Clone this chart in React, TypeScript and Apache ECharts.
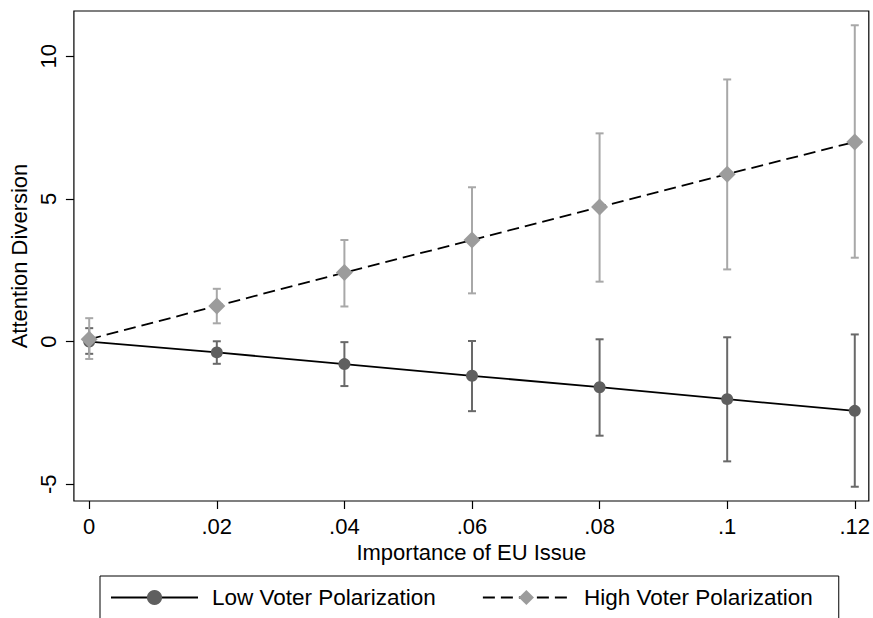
import { useEffect, useRef } from "react";
import * as echarts from "echarts";

const xValues = [0, 0.02, 0.04, 0.06, 0.08, 0.1, 0.12];
const lowMean = [0.0, -0.38, -0.79, -1.2, -1.6, -2.02, -2.43];
const lowLower = [-0.43, -0.78, -1.56, -2.44, -3.3, -4.2, -5.09];
const lowUpper = [0.47, 0.01, -0.02, 0.02, 0.08, 0.15, 0.25];
const highMean = [0.08, 1.25, 2.42, 3.56, 4.72, 5.87, 7.0];
const highLower = [-0.61, 0.64, 1.23, 1.69, 2.1, 2.53, 2.94];
const highUpper = [0.82, 1.85, 3.56, 5.41, 7.3, 9.19, 11.09];
const xTicks = [0, 0.02, 0.04, 0.06, 0.08, 0.1, 0.12];
const xTickLabels = ["0", ".02", ".04", ".06", ".08", ".1", ".12"];
const yTicks = [-5, 0, 5, 10];
const yTickLabels = ["-5", "0", "5", "10"];
const seriesNames = ["Low Voter Polarization", "High Voter Polarization"];

const FONT = "Liberation Sans, Arial, Helvetica, sans-serif";

function labelFor(ticks: number[], labels: string[], v: number) {
  for (let i = 0; i < ticks.length; i++) {
    if (Math.abs(ticks[i] - v) < 1e-9) return labels[i];
  }
  return "";
}

function errorBarSeries(lower: number[], upper: number[], color: string, z: number) {
  return {
    type: "custom",
    z,
    silent: true,
    encode: { x: 0, y: [1, 2] },
    data: xValues.map((x, i) => [x, lower[i], upper[i]]),
    renderItem: (_params: any, api: any) => {
      const x = api.value(0);
      const lo = api.value(1);
      const hi = api.value(2);
      const pTop = api.coord([x, hi]);
      const pBot = api.coord([x, lo]);
      const w = 4;
      const style = { stroke: color, lineWidth: 2, fill: "none" };
      return {
        type: "group",
        children: [
          { type: "line", shape: { x1: pTop[0], y1: pTop[1], x2: pBot[0], y2: pBot[1] }, style },
          { type: "line", shape: { x1: pTop[0] - w, y1: pTop[1], x2: pTop[0] + w, y2: pTop[1] }, style },
          { type: "line", shape: { x1: pBot[0] - w, y1: pBot[1], x2: pBot[0] + w, y2: pBot[1] }, style },
        ],
      };
    },
  };
}

export default function App() {
  const ref = useRef<HTMLDivElement>(null);
  useEffect(() => {
    if (!ref.current) return;
    const chart = echarts.init(ref.current, undefined, { renderer: "svg" });
    const axisText = { color: "#000", fontSize: 22, fontFamily: FONT };
    chart.setOption({
      animation: false,
      backgroundColor: "#fff",
      textStyle: { fontFamily: FONT },
      grid: {
        left: 70,
        right: 4,
        top: 11,
        bottom: 117,
        show: true,
        borderColor: "#000",
        borderWidth: 1.2,
        backgroundColor: "#fff",
      },
      xAxis: {
        type: "value",
        min: -0.0024,
        max: 0.1222,
        name: "Importance of EU Issue",
        nameLocation: "middle",
        nameGap: 40,
        nameTextStyle: axisText,
        axisLine: { show: false, onZero: false },
        splitLine: { show: false },
        axisTick: {
          show: true,
          customValues: xTicks,
          length: 8,
          lineStyle: { color: "#000", width: 1.2 },
        },
        axisLabel: {
          customValues: xTicks,
          margin: 14,
          ...axisText,
          formatter: (v: number) => labelFor(xTicks, xTickLabels, v),
        },
      },
      yAxis: {
        type: "value",
        min: -5.59,
        max: 11.59,
        name: "Attention Diversion",
        nameLocation: "middle",
        nameGap: 40,
        nameTextStyle: axisText,
        axisLine: { show: false, onZero: false },
        splitLine: { show: false },
        axisTick: {
          show: true,
          customValues: yTicks,
          length: 8,
          lineStyle: { color: "#000", width: 1.2 },
        },
        axisLabel: {
          customValues: yTicks,
          rotate: 90,
          margin: 14,
          ...axisText,
          formatter: (v: number) => labelFor(yTicks, yTickLabels, v),
        },
      },
      legend: {
        data: seriesNames,
        left: 100,
        top: 576,
        orient: "horizontal",
        padding: [10, 26, 10, 10],
        itemGap: 46,
        itemWidth: 87,
        itemHeight: 19,
        borderColor: "#000",
        borderWidth: 1,
        backgroundColor: "#fff",
        selectedMode: false,
        textStyle: { color: "#000", fontSize: 22.5, fontFamily: FONT, padding: [0, 0, 0, 9] },
      },
      series: [
        errorBarSeries(lowLower, lowUpper, "#696969", 1),
        {
          name: seriesNames[0],
          type: "line",
          z: 2,
          data: xValues.map((x, i) => [x, lowMean[i]]),
          symbol: "circle",
          symbolSize: 12,
          showAllSymbol: true,
          itemStyle: { color: "#5f5f5f" },
          lineStyle: { color: "#000", width: 1.8, type: "solid" },
        },
        errorBarSeries(highLower, highUpper, "#a8a8a8", 3),
        {
          name: seriesNames[1],
          type: "line",
          z: 4,
          data: xValues.map((x, i) => [x, highMean[i]]),
          symbol: "diamond",
          symbolSize: 17,
          showAllSymbol: true,
          itemStyle: { color: "#9c9c9c" },
          lineStyle: { color: "#000", width: 1.8, type: [12, 6] },
        },
      ],
    });
    return () => chart.dispose();
  }, []);
  return (
    <div
      ref={ref}
      style={{ position: "fixed", left: 0, top: 0, width: 873, height: 618, background: "#fff" }}
    />
  );
}
